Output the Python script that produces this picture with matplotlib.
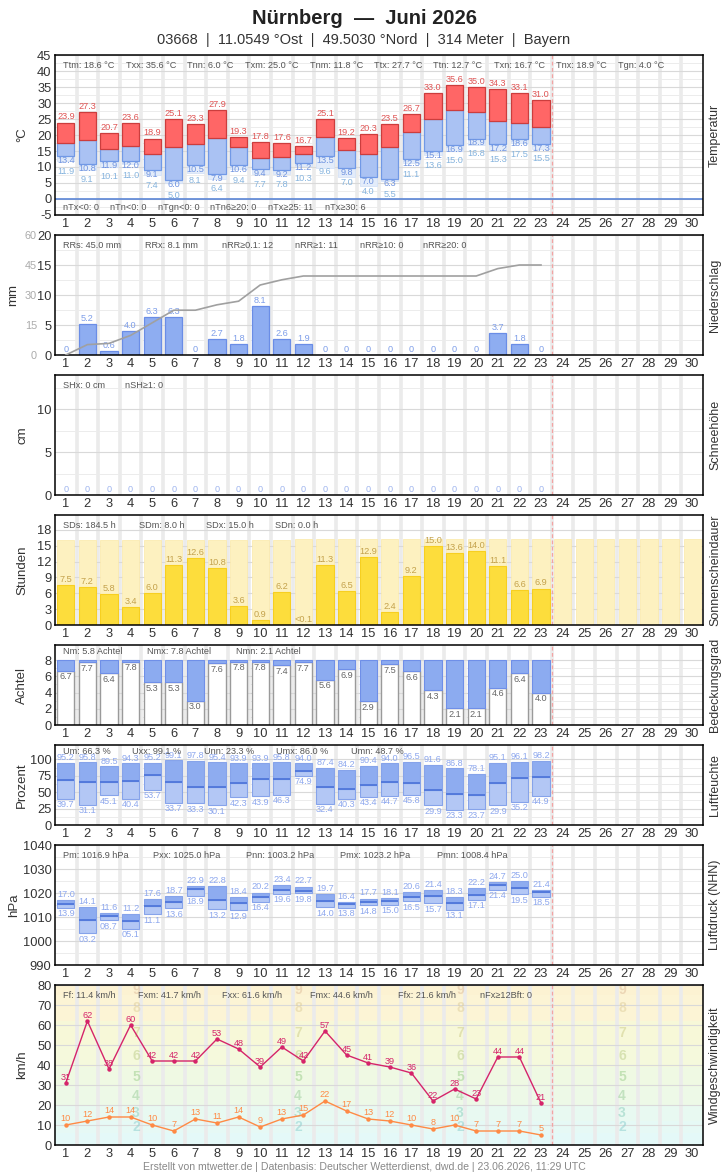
import numpy as np
import matplotlib
matplotlib.use("Agg")
import matplotlib.pyplot as plt

plt.rcParams['font.family'] = ['Liberation Sans', 'DejaVu Sans']
plt.rcParams['axes.unicode_minus'] = False

days = list(range(1, 31))
obs = list(range(1, 24))

# Temperature (°C)
t_max = [23.9, 27.3, 20.7, 23.6, 18.9, 25.1, 23.3, 27.9, 19.3, 17.8, 17.6, 16.7, 25.1,
         19.2, 20.3, 23.5, 26.7, 33.0, 35.6, 35.0, 34.3, 33.1, 31.0]
t_mean = [17.6, 18.3, 15.7, 16.7, 14.2, 16.4, 17.3, 19.0, 16.1, 12.7, 13.0, 14.0, 19.5,
          15.2, 14.0, 16.4, 20.8, 24.9, 27.7, 27.1, 24.3, 23.6, 22.6]
t_min = [13.4, 10.8, 11.9, 12.0, 9.1, 6.0, 10.5, 7.9, 10.6, 9.4, 9.2, 11.2, 13.5,
         9.8, 7.0, 6.3, 12.5, 15.1, 16.9, 18.9, 17.2, 18.6, 17.3]
t_gmin = [11.9, 9.1, 10.1, 11.0, 7.4, 5.0, 8.1, 6.4, 9.4, 7.7, 7.8, 10.3, 9.6,
          7.0, 4.0, 5.5, 11.1, 13.6, 15.0, 16.8, 15.3, 17.5, 15.5]

# Precipitation (mm)
precip = [0, 5.2, 0.6, 4.0, 6.3, 6.3, 0, 2.7, 1.8, 8.1, 2.6, 1.9, 0, 0, 0, 0, 0, 0, 0, 0,
          3.7, 1.8, 0]

# Snow depth (cm)
snow = [0] * 23

# Sunshine (h)
sun = [7.5, 7.2, 5.8, 3.4, 6.0, 11.3, 12.6, 10.8, 3.6, 0.9, 6.2, 0.05, 11.3, 6.5, 12.9,
       2.4, 9.2, 15.0, 13.6, 14.0, 11.1, 6.6, 6.9]
sun_labels = ["7.5", "7.2", "5.8", "3.4", "6.0", "11.3", "12.6", "10.8", "3.6", "0.9", "6.2",
              "<0.1", "11.3", "6.5", "12.9", "2.4", "9.2", "15.0", "13.6", "14.0", "11.1",
              "6.6", "6.9"]
day_length = [16.0, 16.0, 16.0, 16.0, 16.1, 16.1, 16.1, 16.1, 16.1, 16.1, 16.1, 16.2, 16.2,
              16.2, 16.2, 16.2, 16.2, 16.2, 16.2, 16.2, 16.2, 16.2, 16.2, 16.2, 16.2, 16.2,
              16.2, 16.2, 16.2, 16.2]

# Cloud cover (octas)
cloud = [6.7, 7.7, 6.4, 7.8, 5.3, 5.3, 3.0, 7.6, 7.8, 7.8, 7.4, 7.7, 5.6, 6.9, 2.9, 7.5,
         6.6, 4.3, 2.1, 2.1, 4.6, 6.4, 4.0]

# Humidity (%)
hum_max = [95.2, 95.8, 89.5, 94.3, 95.2, 99.1, 97.8, 95.4, 93.9, 93.9, 95.8, 94.0, 87.4,
           84.2, 90.4, 94.0, 96.5, 91.6, 86.8, 78.1, 95.1, 96.1, 98.2]
hum_min = [39.7, 31.1, 45.1, 40.4, 53.7, 33.7, 33.3, 30.1, 42.3, 43.9, 46.3, 74.9, 32.4,
           40.3, 43.4, 44.7, 45.8, 29.9, 23.3, 23.7, 29.9, 35.2, 44.9]
hum_mean = [69.2, 66.2, 66.2, 67.7, 76.9, 66.2, 58.5, 58.5, 64.6, 70.8, 70.8, 83.1, 58.5,
            55.4, 61.5, 66.2, 64.6, 53.8, 47.7, 46.2, 64.6, 72.3, 73.8]

# Pressure (hPa)
p_max = [1017.0, 1014.1, 1011.6, 1011.2, 1017.6, 1018.7, 1022.9, 1022.8, 1018.4, 1020.2,
         1023.4, 1022.7, 1019.7, 1016.4, 1017.7, 1018.1, 1020.6, 1021.4, 1018.3, 1022.2,
         1024.7, 1025.0, 1021.4]
p_min = [1013.9, 1003.2, 1008.7, 1005.1, 1011.1, 1013.6, 1018.9, 1013.2, 1012.9, 1016.4,
         1019.6, 1019.8, 1014.0, 1013.8, 1014.8, 1015.0, 1016.5, 1015.7, 1013.1, 1017.1,
         1021.4, 1019.5, 1018.5]
p_mean = [1015.3, 1008.8, 1010.6, 1008.4, 1014.6, 1016.3, 1021.7, 1016.9, 1015.8, 1018.3,
          1021.1, 1020.8, 1016.8, 1015.6, 1016.1, 1016.5, 1018.5, 1018.8, 1015.8, 1019.2,
          1023.2, 1021.9, 1020.6]

# Wind (km/h)
wind_gust = [31, 62, 38, 60, 42, 42, 42, 53, 48, 39, 49, 42, 57, 45, 41, 39, 36, 22, 28,
             23, 44, 44, 21]
wind_mean = [10, 12, 14, 14, 10, 7, 13, 11, 14, 9, 13, 15, 22, 17, 13, 12, 10, 8, 10, 7,
             7, 7, 5]
bft_edges = [0, 1, 6, 12, 20, 29, 39, 50, 62, 75, 89]
bft_colors = ['#e4f9f8', '#e4f9f8', '#e6f9f5', '#e8f9f1', '#edf9e7', '#eff9e3', '#f5f9dc',
              '#f7f8d8', '#fcf4d5', '#fcf2d2']
bft_text_colors = ['#9bd', '#9bd', '#8cc', '#8cb', '#9c9', '#9c8', '#bc8', '#cc8', '#dc9',
                   '#db9']

W, H = 728, 1175
fig = plt.figure(figsize=(W / 100, H / 100), dpi=100)

LEFT, AW = 55, 648
TXT = '#333333'
STAT = '#555555'
FS_TICK = 9.3
FS_VAL = 6.6
FS_STAT = 6.6


def px2ax(px):
    return (px - LEFT) / AW


def make_ax(top, bottom, ylim, yticks, ylabel, rlabel, minor=True, ylabel_x=22):
    ax = fig.add_axes([LEFT / W, 1 - bottom / H, AW / W, (bottom - top) / H])
    ax.set_xlim(0.5, 30.5)
    ax.set_ylim(*ylim)
    ax.set_yticks(yticks)
    ax.set_xticks(days)
    ax.set_xticklabels([str(d) for d in days])
    ax.tick_params(length=0, labelsize=FS_TICK, colors=TXT, pad=2.5)
    for x in np.arange(1.5, 30.5, 1):
        ax.axvline(x, color='#ebebeb', lw=2.6, zorder=0)
    for y in yticks:
        ax.axhline(y, color='#d9d9d9', lw=0.8, zorder=0.1)
    if minor:
        for a, b in zip(yticks[:-1], yticks[1:]):
            ax.axhline((a + b) / 2, color='#ececec', lw=0.7, zorder=0.1)
    ax.axvline(23.5, color='#f3a3a3', lw=0.9, ls=(0, (3, 2)), zorder=1)
    for s in ax.spines.values():
        s.set_linewidth(1.1)
        s.set_color('black')
        s.set_zorder(10)
    fig.text(ylabel_x / W, 1 - (top + bottom) / 2 / H, ylabel, rotation=90, ha='center',
             va='center', fontsize=9.5, color=TXT)
    fig.text(715 / W, 1 - (top + bottom) / 2 / H, rlabel, rotation=90, ha='center',
             va='center', fontsize=9, color=TXT)
    return ax


def stats(ax, xs_px, texts, dy_pt, top=True):
    for px, t in zip(xs_px, texts):
        ax.annotate(t, xy=(px2ax(px), 1 if top else 0), xycoords='axes fraction',
                    xytext=(0, dy_pt), textcoords='offset points', ha='left', va='center',
                    fontsize=FS_STAT, color=STAT, zorder=20)


def vlabel(ax, x, y, text, dy, color, va='center'):
    ax.annotate(text, xy=(x, y), xytext=(0, dy), textcoords='offset points', ha='center',
                va=va, fontsize=FS_VAL, color=color, zorder=15)


# Title
fig.text(0.5, 1 - 18 / H, 'Nürnberg  —  Juni 2026', ha='center', va='center', fontsize=14.5,
         fontweight='bold', color='#222')
fig.text(0.5, 1 - 40 / H, '03668  |  11.0549 °Ost  |  49.5030 °Nord  |  314 Meter  |  Bayern',
         ha='center', va='center', fontsize=10.5, color='#333')

BW = 0.8

# ---------------- Temperature ----------------
ax = make_ax(55, 215, (-5, 45), list(range(-5, 46, 5)), '°C', 'Temperatur')
ax.axhline(0, color='#5b86d6', lw=1.2, zorder=2)
tg_h = [a - b for a, b in zip(t_min, t_gmin)]
ax.bar(obs, tg_h, bottom=t_gmin, width=BW, color='#e3ecfa', edgecolor='#d6e3f7', lw=0.6,
       zorder=2)
lo_h = [a - b for a, b in zip(t_mean, t_min)]
ax.bar(obs, lo_h, bottom=t_min, width=BW, color='#aac2f3', edgecolor='#7199e6', lw=0.9,
       zorder=3)
hi_h = [a - b for a, b in zip(t_max, t_mean)]
ax.bar(obs, hi_h, bottom=t_mean, width=BW, color='#ff6666', edgecolor='#cc3d3d', lw=0.9,
       zorder=3)
for d, a, b, c in zip(obs, t_max, t_min, t_gmin):
    vlabel(ax, d, a, f'{a:.1f}', 4, '#e05555')
    vlabel(ax, d, b, f'{b:.1f}', -3.2, '#6f93e0')
    vlabel(ax, d, b, f'{c:.1f}', -11.0, '#86b4de')
stats(ax, [63, 126, 187, 245, 310, 374, 433, 494, 556, 618],
      ['Ttm: 18.6 °C', 'Txx: 35.6 °C', 'Tnn: 6.0 °C', 'Txm: 25.0 °C', 'Tnm: 11.8 °C',
       'Ttx: 27.7 °C', 'Ttn: 12.7 °C', 'Txn: 16.7 °C', 'Tnx: 18.9 °C', 'Tgn: 4.0 °C'], -7.2)
stats(ax, [63, 110, 158, 210, 268, 325],
      ['nTx<0: 0', 'nTn<0: 0', 'nTgn<0: 0', 'nTn6≥20: 0', 'nTx≥25: 11', 'nTx≥30: 6'], 5.2,
      top=False)

# ---------------- Precipitation ----------------
ax = make_ax(235, 355, (0, 20), [0, 5, 10, 15, 20], 'mm', 'Niederschlag', ylabel_x=13)
ax.bar(obs, precip, width=BW, color='#8eadf1', edgecolor='#6a8de6', lw=0.9, zorder=3)
for d, v in zip(obs, precip):
    vlabel(ax, d, v, '0' if v == 0 else f'{v:.1f}', 4, '#7e9ee9')
ax2 = ax.twinx()
ax2.set_ylim(0, 60)
ax2.set_yticks([0, 15, 30, 45, 60])
ax2.yaxis.tick_left()
ax2.spines['left'].set_position(('outward', 11))
for s in ax2.spines.values():
    s.set_visible(False)
ax2.tick_params(length=0, labelsize=7.8, colors='#aaaaaa', pad=2)
ax2.plot(obs, np.cumsum(precip), color='#a0a0a0', lw=1.2, zorder=4)
stats(ax, [63, 145, 222, 295, 360, 423],
      ['RRs: 45.0 mm', 'RRx: 8.1 mm', 'nRR≥0.1: 12', 'nRR≥1: 11', 'nRR≥10: 0', 'nRR≥20: 0'],
      -7.2)

# ---------------- Snow ----------------
ax = make_ax(375, 495, (0, 14), [0, 5, 10], 'cm', 'Schneehöhe', minor=False)
for y in [2.5, 7.5, 12.5]:
    ax.axhline(y, color='#ececec', lw=0.7, zorder=0.1)
for d, v in zip(obs, snow):
    vlabel(ax, d, v, f'{v}', 4, '#9fb5ee')
stats(ax, [63, 125], ['SHx: 0 cm', 'nSH≥1: 0'], -7.2)

# ---------------- Sunshine ----------------
ax = make_ax(515, 625, (0, 20.8), [0, 3, 6, 9, 12, 15, 18], 'Stunden', 'Sonnenscheindauer',
             minor=False)
ax.bar(days, day_length, width=BW, color='#fdf1c0', edgecolor='#fbe9a8', lw=0.5, zorder=1.5)
ax.bar(obs, sun, width=BW, color='#fddd3c', edgecolor='#f7cf20', lw=0.8, zorder=3)
for d, v, t in zip(obs, sun, sun_labels):
    vlabel(ax, d, v, t, 4, '#c4a24c')
stats(ax, [63, 139, 206, 275], ['SDs: 184.5 h', 'SDm: 8.0 h', 'SDx: 15.0 h', 'SDn: 0.0 h'],
      -7.2)

# ---------------- Cloud cover ----------------
ax = make_ax(645, 725, (0, 9.85), [0, 2, 4, 6, 8], 'Achtel', 'Bedeckungsgrad')
cl_h = [8 - v for v in cloud]
ax.bar(obs, cloud, width=BW, color='white', edgecolor='#9a9a9a', lw=1.0, zorder=3)
ax.bar(obs, cl_h, bottom=cloud, width=BW, color='#8cabf0', edgecolor='#6f8fe8', lw=0.8,
       zorder=3)
for d, v in zip(obs, cloud):
    vlabel(ax, d, v, f'{v:.1f}', -4.5, '#666666')
stats(ax, [63, 147, 236], ['Nm: 5.8 Achtel', 'Nmx: 7.8 Achtel', 'Nmn: 2.1 Achtel'], -5.0)

# ---------------- Humidity ----------------
ax = make_ax(745, 825, (0, 122), [0, 25, 50, 75, 100], 'Prozent', 'Luftfeuchte')
h_lo = [a - b for a, b in zip(hum_mean, hum_min)]
h_hi = [a - b for a, b in zip(hum_max, hum_mean)]
ax.bar(obs, h_lo, bottom=hum_min, width=BW, color='#b3c7f5', edgecolor='#86a3ea', lw=0.8,
       zorder=3)
ax.bar(obs, h_hi, bottom=hum_mean, width=BW, color='#8eacf0', edgecolor='#86a3ea', lw=0.8,
       zorder=3)
ax.hlines(hum_mean, [d - BW / 2 for d in obs], [d + BW / 2 for d in obs], color='#4a72d9',
          lw=1.2, zorder=4)
for d, a, b in zip(obs, hum_max, hum_min):
    vlabel(ax, d, a, f'{a:.1f}', 3.6, '#8ea8ee')
    vlabel(ax, d, b, f'{b:.1f}', -4.3, '#8ea8ee')
stats(ax, [63, 132, 204, 276, 351],
      ['Um: 66.3 %', 'Uxx: 99.1 %', 'Unn: 23.3 %', 'Umx: 86.0 %', 'Umn: 48.7 %'], -5.0)

# ---------------- Pressure ----------------
ax = make_ax(845, 965, (990, 1040), [990, 1000, 1010, 1020, 1030, 1040], 'hPa',
             'Luftdruck (NHN)', ylabel_x=14)
p_lo = [a - b for a, b in zip(p_mean, p_min)]
p_hi = [a - b for a, b in zip(p_max, p_mean)]
ax.bar(obs, p_lo, bottom=p_min, width=BW, color='#b3c7f5', edgecolor='#86a3ea', lw=0.8,
       zorder=3)
ax.bar(obs, p_hi, bottom=p_mean, width=BW, color='#8eacf0', edgecolor='#86a3ea', lw=0.8,
       zorder=3)
ax.hlines(p_mean, [d - BW / 2 for d in obs], [d + BW / 2 for d in obs], color='#4a72d9',
          lw=1.2, zorder=4)
for d, a, b in zip(obs, p_max, p_min):
    vlabel(ax, d, a, f'{a - 1000:04.1f}', 4, '#8ea8ee')
    vlabel(ax, d, b, f'{b - 1000:04.1f}', -4.3, '#8ea8ee')
stats(ax, [63, 153, 246, 340, 437],
      ['Pm: 1016.9 hPa', 'Pxx: 1025.0 hPa', 'Pnn: 1003.2 hPa', 'Pmx: 1023.2 hPa',
       'Pmn: 1008.4 hPa'], -7.2)

# ---------------- Wind ----------------
ax = make_ax(985, 1145, (0, 80), list(range(0, 81, 10)), 'km/h', 'Windgeschwindigkeit',
             minor=False)
for i in range(len(bft_edges) - 1):
    ax.axhspan(bft_edges[i], bft_edges[i + 1], color=bft_colors[i], zorder=-1, lw=0)
for i in range(2, 10):
    yc = (bft_edges[i] + min(bft_edges[i + 1], 80)) / 2
    for fx in [0.125, 0.375, 0.625, 0.875]:
        ax.text(fx, yc, str(i), transform=ax.get_yaxis_transform(), ha='center',
                va='center', fontsize=10, fontweight='bold', color=bft_text_colors[i],
                alpha=0.5, zorder=0.5)
ax.plot(obs, wind_gust, color='#d5246a', lw=1.0, marker='o', ms=2.2, zorder=5)
ax.plot(obs, wind_mean, color='#ff8a45', lw=1.0, marker='o', ms=2.2, zorder=5)
for d, v in zip(obs, wind_gust):
    vlabel(ax, d, v, f'{v}', 4.2, '#d5246a')
for d, v in zip(obs, wind_mean):
    vlabel(ax, d, v, f'{v}', 4.5, '#ff8a45')
stats(ax, [63, 138, 222, 310, 398, 480],
      ['Ff: 11.4 km/h', 'Fxm: 41.7 km/h', 'Fxx: 61.6 km/h', 'Fmx: 44.6 km/h',
       'Ffx: 21.6 km/h', 'nFx≥12Bft: 0'], -7.2)

fig.text(0.5, 1 - 1167 / H,
         'Erstellt von mtwetter.de | Datenbasis: Deutscher Wetterdienst, dwd.de | 23.06.2026, 11:29 UTC',
         ha='center', va='center', fontsize=7.6, color='#888888')

fig.savefig('out.png', dpi=100)
